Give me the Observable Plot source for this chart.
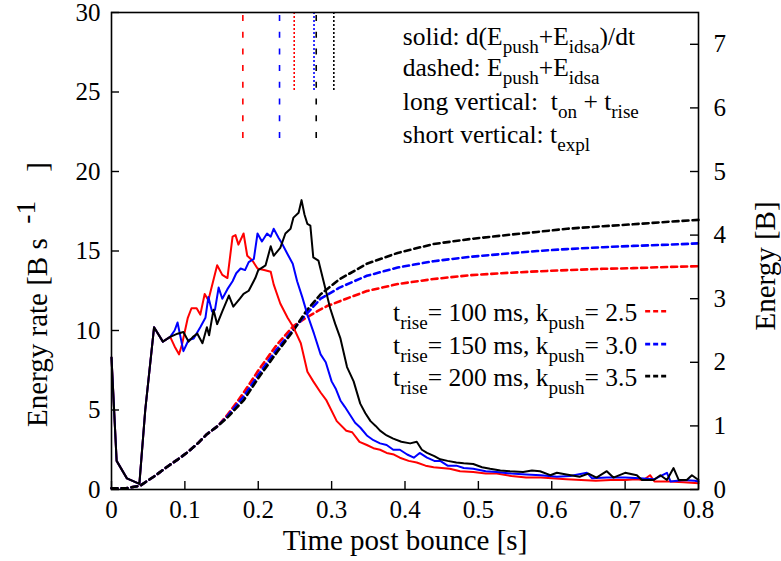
<!DOCTYPE html>
<html><head><meta charset="utf-8">
<script src="https://cdn.jsdelivr.net/npm/d3@7"></script>
<script src="https://cdn.jsdelivr.net/npm/@observablehq/plot@0.6"></script>
<style>
body{margin:0;background:#fff;}
#chart svg, #chart svg text{font-family:"Liberation Serif","Times New Roman",serif;}
</style></head><body><div id="chart"></div>
<script>
// ---- data (time [s], value) ----
const rateCommon = [[0,8.3],[0.007,1.8],[0.021,0.7],[0.038,0.35],[0.046,5.0],[0.058,10.2],[0.070,9.3],[0.080,9.6]];
const rateRed = [[0.086,9.0],[0.092,8.5],[0.096,9.1],[0.104,10.8],[0.109,11.4],[0.116,11.4],[0.121,11.0],[0.127,12.3],[0.132,11.9],[0.138,13.0],[0.144,14.1],[0.151,13.5],[0.158,13.3],[0.165,15.9],[0.169,16.0],[0.173,15.4],[0.18,16.1],[0.185,14.7],[0.192,14.4],[0.199,13.9],[0.208,13.8],[0.217,13.7],[0.221,12.9],[0.23,11.7],[0.24,10.8],[0.248,10.2],[0.258,9.2],[0.267,7.4],[0.275,6.8],[0.285,6.1],[0.293,5.6],[0.307,4.3],[0.32,3.7],[0.328,3.6],[0.338,3.0],[0.348,2.8],[0.357,2.6],[0.366,2.5],[0.375,2.3],[0.385,2.2],[0.393,2.0],[0.405,1.8],[0.416,1.7],[0.428,1.5],[0.439,1.4],[0.45,1.35],[0.461,1.3],[0.475,1.15],[0.493,1.1],[0.51,1.0],[0.525,1.0],[0.545,0.85],[0.565,0.75],[0.585,0.75],[0.6,0.7],[0.62,0.65],[0.64,0.6],[0.66,0.55],[0.68,0.6],[0.7,0.6],[0.715,0.65],[0.725,0.6],[0.734,0.9],[0.74,0.5],[0.76,0.5],[0.78,0.45],[0.8,0.4]];
const rateBlue = [[0.086,10.0],[0.09,10.5],[0.098,8.7],[0.105,9.4],[0.112,9.5],[0.121,10.2],[0.128,10.8],[0.132,12.1],[0.137,11.2],[0.141,11.3],[0.146,12.7],[0.151,12.0],[0.158,12.6],[0.165,13.1],[0.17,13.6],[0.176,13.9],[0.182,13.8],[0.187,14.3],[0.194,14.5],[0.199,16.1],[0.205,15.6],[0.212,16.1],[0.217,15.9],[0.221,16.4],[0.228,15.8],[0.232,15.5],[0.24,14.8],[0.247,14.2],[0.253,13.1],[0.26,12.1],[0.267,11.0],[0.276,9.8],[0.285,8.5],[0.292,8.0],[0.3,6.8],[0.306,6.3],[0.312,5.6],[0.318,5.2],[0.325,4.7],[0.332,4.2],[0.339,3.9],[0.348,3.4],[0.357,3.1],[0.366,2.9],[0.375,2.8],[0.384,2.5],[0.393,2.5],[0.403,2.2],[0.412,2.0],[0.42,2.3],[0.43,2.0],[0.44,1.8],[0.448,1.8],[0.458,1.5],[0.47,1.5],[0.48,1.35],[0.493,1.3],[0.51,1.15],[0.525,1.1],[0.545,1.0],[0.565,0.95],[0.585,0.9],[0.607,0.8],[0.625,0.85],[0.648,1.05],[0.655,0.7],[0.675,0.75],[0.7,0.75],[0.72,0.7],[0.74,0.65],[0.757,1.05],[0.762,0.5],[0.78,0.6],[0.795,0.55],[0.8,0.5]];
const rateBlack = [[0.09,9.8],[0.098,9.9],[0.105,9.3],[0.111,9.6],[0.117,9.8],[0.124,9.2],[0.13,10.2],[0.133,9.7],[0.139,11.3],[0.144,10.4],[0.151,11.2],[0.16,12.2],[0.166,11.5],[0.175,12.0],[0.18,12.3],[0.187,12.5],[0.196,13.3],[0.2,13.8],[0.21,14.1],[0.217,15.3],[0.221,14.7],[0.23,15.2],[0.237,16.1],[0.244,16.4],[0.248,17.1],[0.255,17.4],[0.259,18.2],[0.263,17.3],[0.267,16.7],[0.271,16.6],[0.275,14.6],[0.282,14.4],[0.289,13.1],[0.298,11.4],[0.305,10.4],[0.312,9.5],[0.321,7.7],[0.33,6.8],[0.339,5.4],[0.346,4.8],[0.353,4.3],[0.36,4.0],[0.366,3.7],[0.375,3.4],[0.384,3.2],[0.395,3.0],[0.407,2.9],[0.416,3.0],[0.423,2.5],[0.43,2.3],[0.44,2.1],[0.448,1.9],[0.458,1.8],[0.47,1.7],[0.48,1.65],[0.493,1.6],[0.505,1.4],[0.516,1.3],[0.53,1.2],[0.543,1.15],[0.561,1.1],[0.573,1.2],[0.584,1.15],[0.598,0.9],[0.607,1.05],[0.62,0.95],[0.638,0.8],[0.65,1.0],[0.661,0.75],[0.675,1.15],[0.684,0.75],[0.7,1.05],[0.716,0.9],[0.723,0.6],[0.739,0.6],[0.748,0.9],[0.757,0.6],[0.766,1.35],[0.773,0.6],[0.784,0.6],[0.791,0.9],[0.8,0.6]];

// energy [B]
const energyCommon = [[0,0.02],[0.02,0.02],[0.039,0.06],[0.06,0.22],[0.075,0.35],[0.09,0.47],[0.103,0.58],[0.118,0.73],[0.13,0.87],[0.145,1.0]];
const energyRed = [[0.157,1.16],[0.17,1.36],[0.18,1.52],[0.2,1.87],[0.225,2.27],[0.248,2.57],[0.265,2.7],[0.28,2.8],[0.293,2.88],[0.32,3.0],[0.348,3.12],[0.39,3.23],[0.439,3.31],[0.49,3.37],[0.53,3.4],[0.58,3.43],[0.621,3.45],[0.67,3.47],[0.711,3.48],[0.76,3.5],[0.8,3.51]];
const energyBlue = [[0.157,1.14],[0.17,1.32],[0.18,1.46],[0.2,1.8],[0.225,2.2],[0.248,2.52],[0.265,2.75],[0.285,3.0],[0.31,3.17],[0.348,3.36],[0.39,3.49],[0.439,3.59],[0.49,3.66],[0.53,3.7],[0.58,3.75],[0.621,3.78],[0.67,3.81],[0.711,3.83],[0.76,3.85],[0.8,3.87]];
const energyBlack = [[0.157,1.12],[0.17,1.28],[0.18,1.4],[0.2,1.75],[0.225,2.15],[0.248,2.5],[0.265,2.8],[0.285,3.07],[0.31,3.3],[0.348,3.55],[0.39,3.72],[0.439,3.86],[0.49,3.94],[0.53,3.99],[0.58,4.05],[0.621,4.1],[0.67,4.14],[0.711,4.17],[0.76,4.21],[0.8,4.24]];

const seriesColors = ["#ff0000", "#0000ff", "#000000"];
const tOnRise = [0.179, 0.229, 0.279];   // long vertical
const tExpl = [0.249, 0.276, 0.303];     // short vertical
const legendLabels = ["t_{rise}= 100 ms, k_{push}= 2.5", "t_{rise}= 150 ms, k_{push}= 3.0", "t_{rise}= 200 ms, k_{push}= 3.5"];
const noteLines = ["solid: d(E_{push}+E_{idsa})/dt", "dashed: E_{push}+E_{idsa}", "long vertical:  t_{on} + t_{rise}", "short vertical: t_{expl}"];
const xTitle = "Time post bounce [s]";
const yTitle = "Energy rate [B s  ^{-1}    ]";
const y2Title = "Energy [B]";

const xTicks = [0, 0.1, 0.2, 0.3, 0.4, 0.5, 0.6, 0.7, 0.8];
const yTicks = [0, 5, 10, 15, 20, 25, 30];
const energyTicks = [0, 1, 2, 3, 4, 5, 6, 7];
const E_SCALE = 4; // 30 B/s  <->  7.5 B

// ---- build tables ----
const toObj = ([t, v]) => ({t, v});
const rates = [rateRed, rateBlue, rateBlack].map(s => rateCommon.concat(s).map(toObj));
const energies = [energyRed, energyBlue, energyBlack].map(s => energyCommon.concat(s).map(toObj));

const W = 781, H = 561, mL = 111, mR = 83, mT = 12, mB = 72;
const pW = W - mL - mR, pH = H - mT - mB;

const marks = [];
energies.forEach((s, i) => marks.push(Plot.line(s, {x: "t", y: d => d.v * E_SCALE, stroke: seriesColors[i], strokeWidth: 2.6, strokeDasharray: "6,4"})));
rates.forEach((s, i) => marks.push(Plot.line(s, {x: "t", y: "v", stroke: seriesColors[i], strokeWidth: 2})));
marks.push(Plot.ruleX(tOnRise.map((t, i) => ({t, c: seriesColors[i]})), {x: "t", y1: 30, y2: 22, stroke: "c", strokeWidth: 1.6, strokeDasharray: "6,10.7", strokeDashoffset: -3}));
marks.push(Plot.ruleX(tExpl.map((t, i) => ({t, c: seriesColors[i]})), {x: "t", y1: 30, y2: 25, stroke: "c", strokeWidth: 1.6, strokeDasharray: "2,2"}));

marks.push(Plot.frame({stroke: "black", strokeWidth: 1.6}));
marks.push(Plot.ruleY(yTicks, {insetRight: pW - 8, stroke: "black", strokeWidth: 1.4}));
marks.push(Plot.ruleY(energyTicks.map(e => e * E_SCALE), {insetLeft: pW - 8, stroke: "black", strokeWidth: 1.4}));
marks.push(Plot.ruleX(xTicks, {insetTop: pH - 8, stroke: "black", strokeWidth: 1.4}));

marks.push(Plot.axisX({ticks: xTicks, tickSize: 0, tickPadding: 11, tickFormat: d => String(+d.toFixed(1)), label: null, fontSize: 25}));
marks.push(Plot.axisY({anchor: "left", ticks: yTicks, tickSize: 0, tickPadding: 11, label: null, fontSize: 25}));
marks.push(Plot.axisY({anchor: "right", ticks: energyTicks.map(e => e * E_SCALE), tickFormat: d => String(d / E_SCALE), tickSize: 0, tickPadding: 15, label: null, fontSize: 25}));

marks.push(Plot.text([xTitle], {frameAnchor: "bottom", dy: 60, fontSize: 29, text: d => d, textAnchor: "middle"}));
marks.push(Plot.text([yTitle], {frameAnchor: "left", dx: -74, dy: 176, rotate: -90, fontSize: 29, text: d => d, textAnchor: "start"}));
marks.push(Plot.text([y2Title], {frameAnchor: "right", dx: 67, dy: 15, rotate: -90, fontSize: 29, text: d => d, textAnchor: "middle"}));

const noteY = [28.44, 26.49, 24.36, 22.29];
marks.push(Plot.text(noteLines.map((s, i) => ({s, y: noteY[i]})), {x: () => 0.397, y: "y", text: "s", textAnchor: "start", fontSize: 25.5}));

const legY = [11.11, 9.04, 7.03];
marks.push(Plot.text(legendLabels.map((s, i) => ({s, y: legY[i]})), {x: () => 0.7164, y: "y", text: "s", textAnchor: "end", fontSize: 25.5}));
marks.push(Plot.link(legendLabels.map((s, i) => ({y: legY[i] + 0.1, c: seriesColors[i]})), {x1: () => 0.7273, x2: () => 0.7573, y1: "y", y2: "y", stroke: "c", strokeWidth: 2.6, strokeDasharray: "5,3"}));

const chart = Plot.plot({
  width: W, height: H,
  marginLeft: mL, marginRight: mR, marginTop: mT, marginBottom: mB,
  x: {domain: [0, 0.8]},
  y: {domain: [0, 30]},
  style: "font-family: 'Liberation Serif', 'Times New Roman', serif; color: black; background: white;",
  marks
});
document.getElementById("chart").appendChild(chart);

// rich text: _{sub} and ^{sup}
d3.select(chart).selectAll("text").each(function() {
  const txt = this.textContent;
  if (!/[_^]\{/.test(txt)) return;
  const fs = parseFloat(getComputedStyle(this).fontSize);
  const el = d3.select(this);
  el.text(null);
  const re = /([_^])\{([^}]*)\}|([^_^]+)/g;
  let m, off = 0;
  while ((m = re.exec(txt))) {
    if (m[3] !== undefined) {
      el.append("tspan").attr("dy", -off).text(m[3]);
      off = 0;
    } else {
      const sup = m[1] === "^";
      const target = sup ? -0.42 * fs : 0.3 * fs;
      el.append("tspan").attr("dy", target - off).style("font-size", ((sup ? 0.95 : 0.75) * fs) + "px").text(m[2]);
      off = target;
    }
  }
});
</script></body></html>
